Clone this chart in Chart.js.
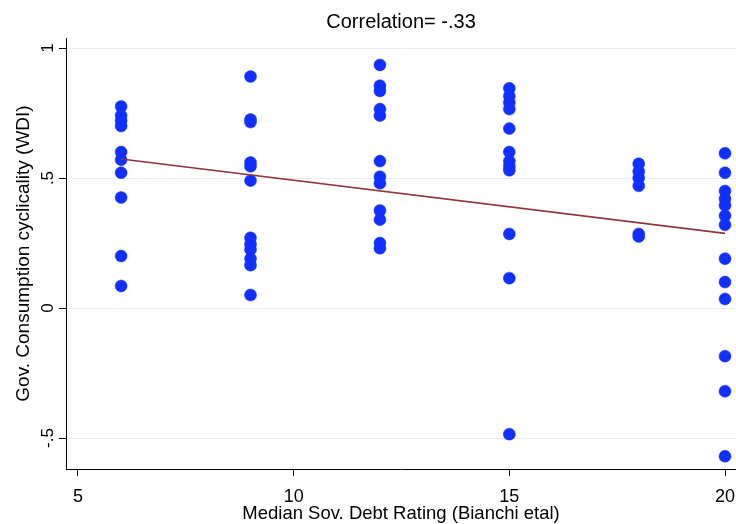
<!DOCTYPE html>
<html>
<head>
<meta charset="utf-8">
<script src="https://cdn.jsdelivr.net/npm/chart.js@4/dist/chart.umd.min.js"></script>
<style>
  html, body { margin: 0; padding: 0; background: #fff; }
  #wrap { width: 736px; height: 524px; }
</style>
</head>
<body>
<div id="wrap"><canvas id="scatterChart" width="736" height="524"></canvas></div>
<script>
"use strict";
// median sovereign debt rating groups and cyclicality of each country in the group
const ratingLevels = [6, 9, 12, 15, 18, 20];
const cyclicality6 = [0.775, 0.74, 0.72, 0.70, 0.60, 0.57, 0.52, 0.425, 0.20, 0.085];
const cyclicality9 = [0.89, 0.725, 0.715, 0.56, 0.545, 0.49, 0.27, 0.245, 0.225, 0.19, 0.165, 0.05];
const cyclicality12 = [0.935, 0.855, 0.835, 0.765, 0.74, 0.565, 0.505, 0.48, 0.375, 0.34, 0.25, 0.23];
const cyclicality15 = [0.845, 0.815, 0.79, 0.765, 0.69, 0.60, 0.565, 0.545, 0.53, 0.285, 0.115, -0.485];
const cyclicality18 = [0.555, 0.525, 0.50, 0.47, 0.285, 0.275];
const cyclicality20 = [0.595, 0.52, 0.45, 0.42, 0.395, 0.355, 0.32, 0.19, 0.10, 0.035, -0.185, -0.32, -0.57];
const fitX = [6, 20];
const fitY = [0.573, 0.287];
const xTicks = [5, 10, 15, 20];
const yTicks = [-0.5, 0, 0.5, 1];
const chartTitle = "Correlation= -.33";

const groups = [cyclicality6, cyclicality9, cyclicality12, cyclicality15, cyclicality18, cyclicality20];
const scatterPoints = [];
groups.forEach((vals, i) => {
  vals.forEach((v) => scatterPoints.push({ x: ratingLevels[i], y: v }));
});
const fitPoints = fitX.map((x, i) => ({ x: x, y: fitY[i] }));

function stataNum(v) {
  if (v === 0) return "0";
  let s = String(v);
  s = s.replace(/^0\./, ".").replace(/^-0\./, "-.");
  return s;
}

const fontFamily = "'Liberation Sans', Arial, Helvetica, sans-serif";

// stata puts the title over the plot region, not the whole canvas
const plotTitle = {
  id: "plotTitle",
  afterDraw(chart) {
    const { ctx, chartArea } = chart;
    ctx.save();
    ctx.fillStyle = "#000";
    ctx.font = "20px " + fontFamily;
    ctx.textAlign = "center";
    ctx.textBaseline = "middle";
    ctx.fillText(chartTitle, (chartArea.left + chartArea.right) / 2, 22);
    ctx.restore();
  },
};

const ctx = document.getElementById("scatterChart");
new Chart(ctx, {
  type: "scatter",
  data: {
    datasets: [
      {
        type: "line",
        label: "Fitted values",
        data: fitPoints,
        borderColor: "#90353b",
        borderWidth: 1.6,
        pointRadius: 0,
        fill: false,
        order: 0,
      },
      {
        label: "Gov. Consumption cyclicality (WDI)",
        data: scatterPoints,
        backgroundColor: "#1030ff",
        borderColor: "#1030ff",
        borderWidth: 0.5,
        pointRadius: 6,
        order: 1,
      },
    ],
  },
  plugins: [plotTitle],
  options: {
    responsive: false,
    animation: false,
    clip: false,
    layout: { autoPadding: false, padding: { top: 38, left: 0, right: 0, bottom: 0 } },
    plugins: {
      legend: { display: false },
      tooltip: { enabled: false },
      title: { display: false },
    },
    scales: {
      x: {
        type: "linear",
        min: 4.722,
        max: 20.255,
        afterBuildTicks: (scale) => {
          scale.ticks = xTicks.map((v) => ({ value: v }));
        },
        afterFit: (scale) => {
          scale.height = 55;
          scale.paddingLeft = 0;
          scale.paddingRight = 0;
        },
        grid: {
          drawOnChartArea: false,
          drawTicks: true,
          tickLength: 7,
          tickColor: "#000",
        },
        border: { display: true, color: "#000", width: 1 },
        ticks: {
          color: "#000",
          font: { family: fontFamily, size: 18 },
          padding: 10,
          maxRotation: 0,
          callback: (v) => stataNum(v),
        },
        title: {
          display: true,
          text: "Median Sov. Debt Rating (Bianchi etal)",
          color: "#000",
          font: { family: fontFamily, size: 18.5, lineHeight: 1 },
          padding: { top: 0, bottom: 0.5 },
        },
      },
      y: {
        type: "linear",
        min: -0.619,
        max: 1.0385,
        afterBuildTicks: (scale) => {
          scale.ticks = yTicks.map((v) => ({ value: v }));
        },
        afterFit: (scale) => {
          scale.width = 66;
          scale.paddingTop = 0;
          scale.paddingBottom = 0;
        },
        grid: {
          color: "#e6edf1",
          lineWidth: 1,
          drawTicks: true,
          tickLength: 7,
          tickColor: "#000",
        },
        border: { display: true, color: "#000", width: 1 },
        ticks: {
          color: "#000",
          font: { family: fontFamily, size: 17 },
          minRotation: 90,
          maxRotation: 90,
          crossAlign: "center",
          padding: 1,
          callback: (v) => stataNum(v),
        },
        title: {
          display: true,
          text: "Gov. Consumption cyclicality (WDI)",
          color: "#000",
          font: { family: fontFamily, size: 19, lineHeight: 1 },
          padding: { top: 14.5, bottom: 0 },
        },
      },
    },
  },
});
</script>
</body>
</html>
